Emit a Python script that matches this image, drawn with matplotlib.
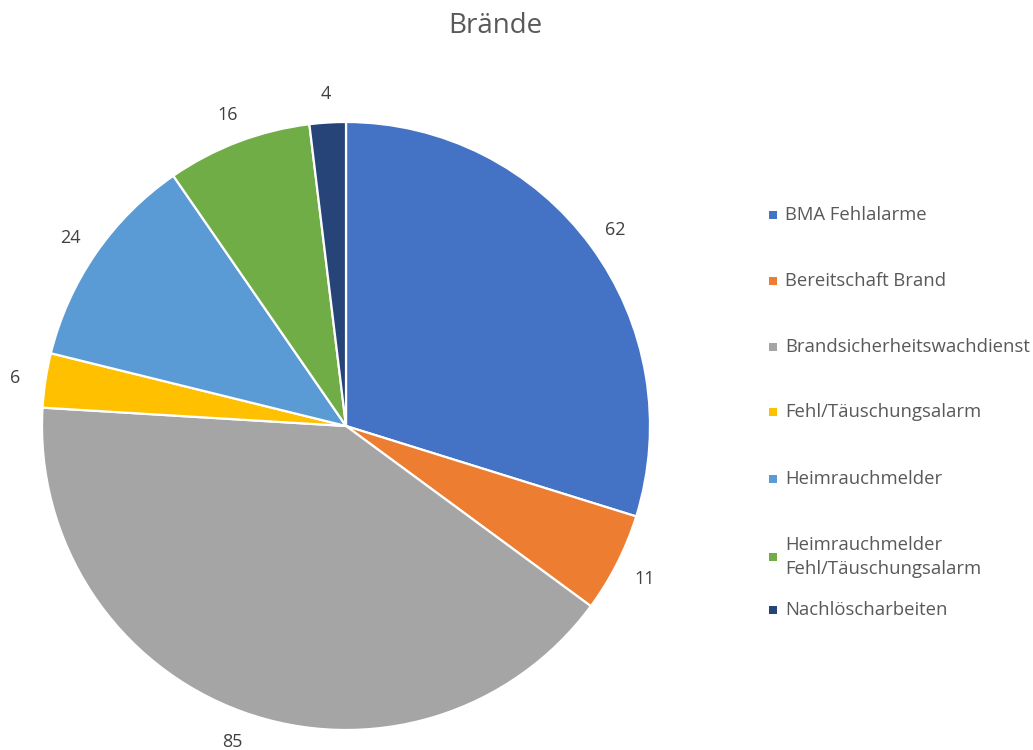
import matplotlib.pyplot as plt
import matplotlib.patches as patches

# Daten
kategorien = ["BMA Fehlalarme", "Bereitschaft Brand", "Brandsicherheitswachdienst",
              "Fehl/Täuschungsalarm", "Heimrauchmelder",
              "Heimrauchmelder\nFehl/Täuschungsalarm", "Nachlöscharbeiten"]
werte = [62, 11, 85, 6, 24, 16, 4]
farben = ["#4472C4", "#ED7D31", "#A5A5A5", "#FFC000", "#5B9BD5", "#70AD47", "#264478"]

plt.rcParams['font.family'] = ['Open Sans', 'DejaVu Sans']

W, H = 1033, 750
fig = plt.figure(figsize=(W / 100, H / 100), dpi=100)

# Kreis: Mitte (346, 426) px, Radius 304 px
cx, cy, r = 346, 426, 304
ax = fig.add_axes([(cx - r) / W, (H - cy - r) / H, 2 * r / W, 2 * r / H])
summe = sum(werte)
wedges, _, autotexts = ax.pie(
    werte, colors=farben, startangle=90, counterclock=False,
    wedgeprops=dict(edgecolor='white', linewidth=1.6),
    autopct=lambda p: f"{round(p * summe / 100)}", pctdistance=1.10,
    textprops=dict(fontsize=13, color='#404040'))
for t in autotexts:
    t.set_va('center_baseline')
ax.set_xlim(-1, 1)
ax.set_ylim(-1, 1)

fig.text(495 / W, 1 - 26 / H, "Brände", ha='center', va='center',
         fontsize=20, color='#595959')

# Legende
zeilen_y = [215, 281, 347, 412, 479, 557, 610]
for wedge, name, y in zip(wedges, kategorien, zeilen_y):
    fig.patches.append(patches.Rectangle((769 / W, 1 - (y + 4) / H), 8 / W, 8 / H,
                                         facecolor=wedge.get_facecolor(),
                                         transform=fig.transFigure, figure=fig))
    fig.text(785 / W, 1 - y / H, name, ha='left', va='center', fontsize=13.3,
             color='#595959', linespacing=1.5)

fig.savefig("out.png", dpi=100)
